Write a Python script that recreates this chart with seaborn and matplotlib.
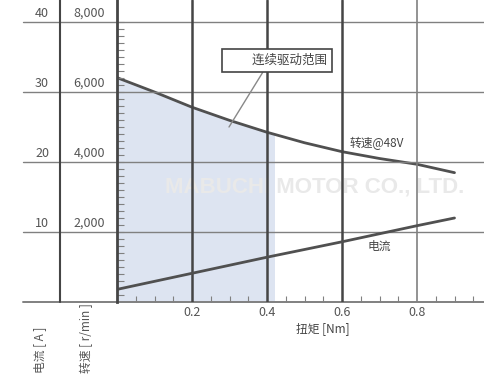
import numpy as np
import pandas as pd
import matplotlib.pyplot as plt
import matplotlib.transforms as mtransforms
import seaborn as sns

# data
torque = [0.0, 0.1, 0.2, 0.3, 0.4, 0.5, 0.6, 0.7, 0.8, 0.9]
speed = [6410, 6000, 5565, 5190, 4850, 4550, 4295, 4100, 3935, 3695]
current = [1.8, 2.95, 4.1, 5.25, 6.4, 7.5, 8.6, 9.75, 10.9, 12.0]

# continuous operation area (under speed curve)
cont_torque = [0.0, 0.1, 0.2, 0.3, 0.4, 0.42]
cont_speed = [6410, 6000, 5565, 5190, 4850, 4790]

current_ticks = [10, 20, 30, 40]
speed_ticks = [2000, 4000, 6000, 8000]
x_ticks = [0.2, 0.4, 0.6, 0.8]

sns.set_style("white")
plt.rcParams['font.family'] = ['Noto Sans CJK SC', 'DejaVu Sans']

W, H = 484, 376
fig = plt.figure(figsize=(W / 100, H / 100), dpi=100)
ax = fig.add_axes([117 / W, 74 / H, 367 / W, 302 / H])
ax2 = ax.twinx()
# speed axis (fill + speed curve) sits below the current axis (grid + current curve)
ax2.set_zorder(1)
ax.set_zorder(2)
ax.patch.set_visible(False)

ax.set_xlim(0, 367 / 375)
ax.set_ylim(0, 302 / 70 * 10)
ax2.set_ylim(0, 302 / 70 * 2000)

line_col = '#505050'
grid_dark = '#454545'
grid_light = '#808080'
txt_col = '#555555'

# continuous drive range fill
ax2.fill_between(cont_torque, 0, cont_speed, color='#dde4f1', lw=0, zorder=1)

# watermark
ax2.text(0.528, 3300, 'MABUCHI MOTOR CO., LTD.', ha='center', va='center',
         fontsize=16, fontweight='bold', color='#e9e9e9',
         family='Liberation Sans', zorder=2)

# grid lines
blend = mtransforms.blended_transform_factory(ax.transAxes, ax.transData)
x0 = (23 - 117) / 367
for v in current_ticks:
    ax.plot([x0, 1], [v, v], color=grid_light, lw=1.0, transform=blend,
            clip_on=False, zorder=3)
ax.plot([x0, 1], [0, 0], color=grid_light, lw=1.4, transform=blend,
        clip_on=False, zorder=3)
for v in x_ticks:
    lw = 1.2 if v == 0.8 else 1.8
    c = grid_light if v == 0.8 else grid_dark
    ax.axvline(v, color=c, lw=lw, zorder=3)

# column separator between current and speed scales
colx = (60 - 117) / 367
ax.plot([colx, colx], [0, 1], color=grid_dark, lw=1.5, transform=ax.transAxes,
        clip_on=False, zorder=3)

# curves
df = pd.DataFrame({'torque': torque, 'speed': speed, 'current': current})
sns.lineplot(data=df, x='torque', y='speed', ax=ax2, color=line_col, lw=2, zorder=5)
sns.lineplot(data=df, x='torque', y='current', ax=ax, color=line_col, lw=2, zorder=5)

# spines and ticks
for a in (ax, ax2):
    for s in a.spines.values():
        s.set_visible(False)
ax.spines['left'].set_visible(True)
ax.spines['left'].set_color(grid_dark)
ax.spines['left'].set_linewidth(2)
ax.spines['left'].set_zorder(6)

ax.set_xticks(x_ticks)
ax.set_xticklabels([f'{v:.1f}' for v in x_ticks], color=txt_col, fontsize=9)
ax.set_xticks(np.arange(0.05, 0.98, 0.05), minor=True)
ax.tick_params(axis='x', which='major', length=0, pad=3)
ax.tick_params(axis='x', which='minor', direction='in', length=4, width=0.8,
               color=grid_light, bottom=True)
ax.set_yticks([])
ax.set_yticks(np.arange(1, 41, 1), minor=True)
ax.tick_params(axis='y', which='minor', direction='in', length=5, width=0.8,
               color=grid_light, left=True)
ax2.set_yticks([])
ax.set_xlabel('')
ax.set_ylabel('')
ax2.set_ylabel('')

# left scale labels
for v in current_ticks:
    ax.text((49 - 117) / 367, v + 0.3, f'{v}', transform=blend, ha='right',
            va='bottom', fontsize=9, color=txt_col)
blend2 = mtransforms.blended_transform_factory(ax2.transAxes, ax2.transData)
for v in speed_ticks:
    ax2.text((105 - 117) / 367, v + 60, f'{v:,}', transform=blend2, ha='right',
             va='bottom', fontsize=9, color=txt_col)

fig.text(40 / W, 1 - 373 / H, '电流 [ A ]', rotation=90, ha='center', va='bottom',
         fontsize=8.5, color=txt_col)
fig.text(86 / W, 1 - 373 / H, '转速 [ r/min ]', rotation=90, ha='center', va='bottom',
         fontsize=8.5, color=txt_col)

# curve labels
ax.text(0.621, 22.7, '转速@48V', ha='left', va='center', fontsize=8.5, color='#444444')
ax.text(0.669, 8.0, '电流', ha='left', va='center', fontsize=8.5, color='#444444')
fig.text(323 / W, 1 - 329 / H, '扭矩 [Nm]', ha='center', va='center', fontsize=8.5,
         color='#444444')

# annotation box (on the top axes so it covers the grid line)
ax.annotate('\u3000\u3000连续驱动范围', xy=(0.2987, 25.0), xytext=(0.4267, 34.5),
            ha='center', va='center', fontsize=9, color='#444444',
            bbox=dict(boxstyle='square,pad=0.4', fc='white', ec='#444444', lw=1.2),
            arrowprops=dict(arrowstyle='-', color='#888888', lw=1.0,
                            shrinkA=0, shrinkB=0, relpos=(0.39, 0)),
            zorder=7)

fig.savefig('out.png', dpi=100)
